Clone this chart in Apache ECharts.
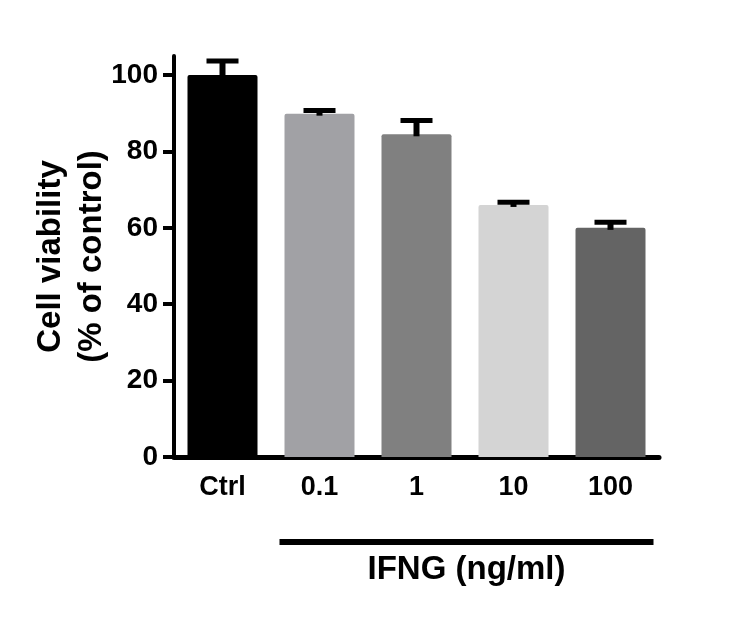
<!DOCTYPE html>
<html>
<head>
<meta charset="utf-8">
<script src="https://cdn.jsdelivr.net/npm/echarts@6/dist/echarts.min.js"></script>
<style>
html, body { margin: 0; padding: 0; background: #fff; }
#myChart { width: 750px; height: 618px; }
</style>
</head>
<body>
<div id="myChart"></div>
<script>
var categories = ['Ctrl', '0.1', '1', '10', '100'];
var viability = [100, 89.9, 84.5, 66.0, 60.0];
var errorSd = [3.7, 0.8, 3.6, 0.7, 1.5];
var barColors = ['#000000', '#a1a1a5', '#808080', '#d4d4d4', '#646464'];
var yTicks = [0, 20, 40, 60, 80, 100];

var Chart = {};
Chart.font = '"Liberation Sans", Arial, sans-serif';

Chart.errorItem = function(params, api) {
	var idx = api.value(0);
	var top = api.coord([idx, api.value(1) + api.value(2)]);
	var base = api.coord([idx, api.value(1)]);
	return {
		type : 'group',
		children : [ {
			type : 'rect',
			shape : { x : top[0] - 3, y : top[1], width : 6, height : base[1] - top[1] + 2 },
			style : { fill : '#000' }
		}, {
			type : 'rect',
			shape : { x : top[0] - 16, y : top[1] - 2.5, width : 32, height : 5 },
			style : { fill : '#000' }
		} ]
	};
};

Chart.init = function() {
	var myChart = echarts.init(document.getElementById('myChart'));

	var barData = [];
	var errData = [];
	for (var i = 0; i < categories.length; i++) {
		barData.push({ value : viability[i], itemStyle : { color : barColors[i] } });
		errData.push([ i, viability[i], errorSd[i] ]);
	}

	var option = {
		animation : false,
		backgroundColor : '#fff',
		grid : { left : 174, right : 91, top : 56, bottom : 161 },
		xAxis : {
			type : 'category',
			data : categories,
			axisLine : { lineStyle : { color : '#000', width : 5 } },
			axisTick : { show : false },
			axisLabel : {
				color : '#000', fontSize : 27, fontWeight : 'bold',
				fontFamily : Chart.font, margin : 17
			}
		},
		yAxis : {
			type : 'value',
			min : 0,
			max : 105,
			interval : 20,
			name : 'Cell viability\n(% of control)',
			nameLocation : 'middle',
			nameRotate : 90,
			nameGap : 62,
			nameMoveOverlap : false,
			nameTextStyle : {
				color : '#000', fontSize : 33, fontWeight : 'bold',
				fontFamily : Chart.font, lineHeight : 41
			},
			axisLine : { show : true, lineStyle : { color : '#000', width : 4 } },
			axisTick : {
				show : true, length : 11, customValues : yTicks,
				lineStyle : { color : '#000', width : 4 }
			},
			axisLabel : {
				color : '#000', fontSize : 28, fontWeight : 'bold',
				fontFamily : Chart.font, margin : 16, customValues : yTicks
			},
			splitLine : { show : false }
		},
		series : [ {
			type : 'bar',
			data : barData,
			barWidth : 70,
			itemStyle : { borderRadius : [ 2, 2, 0, 0 ] },
			z : 2
		}, {
			type : 'custom',
			data : errData,
			renderItem : Chart.errorItem,
			z : 3
		} ]
	};
	myChart.setOption(option);

	// line under the IFNG doses and its label
	var x1 = myChart.convertToPixel({ xAxisIndex : 0 }, '0.1') - 40;
	var x2 = myChart.convertToPixel({ xAxisIndex : 0 }, '100') + 43;
	myChart.setOption({
		graphic : [ {
			type : 'rect',
			shape : { x : x1, y : 539, width : x2 - x1, height : 6 },
			style : { fill : '#000' }
		}, {
			type : 'text',
			x : (x1 + x2) / 2,
			y : 570,
			style : {
				text : 'IFNG (ng/ml)',
				fill : '#000',
				font : 'bold 33px ' + Chart.font,
				align : 'center',
				verticalAlign : 'middle'
			}
		} ]
	});
};

Chart.init();
</script>
</body>
</html>
